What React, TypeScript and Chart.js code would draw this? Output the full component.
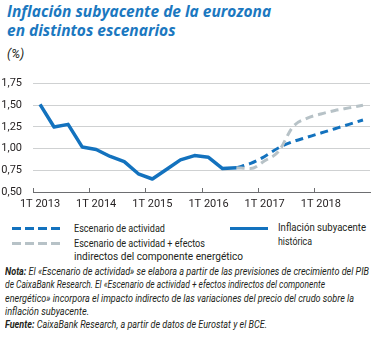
import React, { useEffect, useLayoutEffect, useRef } from "react";
import { Chart, registerables } from "chart.js";

Chart.register(...registerables);

const categories = [
  "1T 2013", "2T 2013", "3T 2013", "4T 2013",
  "1T 2014", "2T 2014", "3T 2014", "4T 2014",
  "1T 2015", "2T 2015", "3T 2015", "4T 2015",
  "1T 2016", "2T 2016", "3T 2016", "4T 2016",
  "1T 2017", "2T 2017", "3T 2017", "4T 2017",
  "1T 2018", "2T 2018", "3T 2018", "4T 2018",
];

const historic = [
  1.51, 1.25, 1.28, 1.02, 0.99, 0.91, 0.85, 0.71, 0.65, 0.76, 0.87, 0.92, 0.9, 0.77, 0.78,
  null, null, null, null, null, null, null, null, null,
];

const activityScenario = [
  null, null, null, null, null, null, null, null, null, null, null, null, null, null,
  0.78, 0.83, 0.91, 1.01, 1.08, 1.13, 1.18, 1.23, 1.28, 1.33,
];

const energyScenario = [
  null, null, null, null, null, null, null, null, null, null, null, null, null, null,
  0.78, 0.77, 0.86, 0.97, 1.25, 1.35, 1.4, 1.44, 1.47, 1.5,
];

const yMin = 0.5;
const yMax = 1.75;
const yStep = 0.25;

const BLUE = "#1372be";
const GREY = "#b7c2c7";
const TITLE_BLUE = "#1b78c0";
const TEXT = "#231f20";
const FONT = "'Roboto', sans-serif";

const yearTicks = {
  id: "yearTicks",
  afterDatasetsDraw(chart: any) {
    const x = chart.scales.x;
    const { ctx, chartArea } = chart;
    const half = (x.getPixelForValue(1) - x.getPixelForValue(0)) / 2;
    ctx.save();
    ctx.strokeStyle = "#6d6e71";
    ctx.lineWidth = 1;
    categories.forEach((c, i) => {
      if (c.startsWith("1T")) {
        const px = Math.round(x.getPixelForValue(i) - half) + 0.5;
        ctx.beginPath();
        ctx.moveTo(px, chartArea.bottom);
        ctx.lineTo(px, chartArea.bottom - 4);
        ctx.stroke();
      }
    });
    ctx.restore();
  },
};

function FitLine({ width, children }: { width: number; children: React.ReactNode }) {
  const ref = useRef<HTMLSpanElement | null>(null);
  useLayoutEffect(() => {
    const el = ref.current;
    if (!el) return;
    el.style.transform = "none";
    const w = el.getBoundingClientRect().width;
    if (w > 0) el.style.transform = `scaleX(${width / w})`;
  }, [width]);
  return (
    <span
      ref={ref}
      style={{ display: "inline-block", whiteSpace: "nowrap", transformOrigin: "0 0" }}
    >
      {children}
    </span>
  );
}

function LegendDash({ color }: { color: string }) {
  return (
    <div
      style={{
        width: 48,
        height: 3,
        background: `repeating-linear-gradient(90deg, ${color} 0 9px, transparent 9px 13px)`,
      }}
    />
  );
}

export default function App() {
  const canvasRef = useRef<HTMLCanvasElement | null>(null);

  useEffect(() => {
    if (!canvasRef.current) return;
    const chart = new Chart(canvasRef.current, {
      type: "line",
      data: {
        labels: categories,
        datasets: [
          {
            label: "Escenario de actividad + efectos indirectos del componente energético",
            data: energyScenario,
            borderColor: GREY,
            borderWidth: 3,
            borderDash: [8, 5],
            pointRadius: 0,
            cubicInterpolationMode: "monotone",
            fill: false,
          },
          {
            label: "Escenario de actividad",
            data: activityScenario,
            borderColor: BLUE,
            borderWidth: 3,
            borderDash: [8, 5],
            pointRadius: 0,
            cubicInterpolationMode: "monotone",
            fill: false,
          },
          {
            label: "Inflación subyacente histórica",
            data: historic,
            borderColor: BLUE,
            borderWidth: 3.5,
            pointRadius: 0,
            tension: 0,
            fill: false,
            borderJoinStyle: "round",
          },
        ],
      },
      options: {
        animation: false,
        responsive: false,
        devicePixelRatio: 1,
        layout: { padding: { left: 0, right: 3, top: 12, bottom: 0 } },
        plugins: { legend: { display: false }, tooltip: { enabled: false } },
        scales: {
          x: {
            type: "category",
            offset: true,
            grid: { display: false, drawTicks: false },
            border: { display: true, color: "#6d6e71", width: 1 },
            ticks: {
              autoSkip: false,
              maxRotation: 0,
              padding: 6,
              color: TEXT,
              font: { family: FONT, size: 11 },
              callback: (_v: any, i: number) => (categories[i].startsWith("1T") ? categories[i] : ""),
            },
            afterFit: (s: any) => {
              s.height = 24;
            },
          },
          y: {
            min: yMin,
            max: yMax,
            border: { display: false },
            grid: {
              drawTicks: false,
              color: (ctx: any) => (ctx.tick && ctx.tick.value === yMin ? "rgba(0,0,0,0)" : "#cfd1d2"),
              lineWidth: 1,
            },
            ticks: {
              stepSize: yStep,
              padding: 11,
              color: TEXT,
              font: { family: FONT, size: 11 },
              callback: (v: any) => Number(v).toFixed(2).replace(".", ","),
            },
            afterFit: (s: any) => {
              s.width = 33;
            },
          },
        },
      },
      plugins: [yearTicks],
    });
    return () => chart.destroy();
  }, []);

  const legendText: React.CSSProperties = {
    position: "absolute",
    fontFamily: FONT,
    fontSize: 11,
    lineHeight: "13px",
    color: TEXT,
    whiteSpace: "nowrap",
  };

  const noteLine: React.CSSProperties = {
    whiteSpace: "nowrap",
    height: 13.3,
    lineHeight: "13.3px",
  };

  return (
    <div
      style={{
        position: "absolute",
        left: 0,
        top: 0,
        width: 373,
        height: 338,
        background: "#fff",
        overflow: "hidden",
        fontFamily: FONT,
        color: TEXT,
      }}
    >
      <div
        style={{
          position: "absolute",
          left: 7,
          top: 2,
          fontFamily: "'Open Sans', sans-serif",
          fontWeight: 700,
          fontStyle: "italic",
          fontSize: 15.5,
          lineHeight: "19px",
          color: TITLE_BLUE,
          whiteSpace: "nowrap",
        }}
      >
        <div>Inflación subyacente de la eurozona</div>
        <div>en distintos escenarios</div>
      </div>
      <div
        style={{
          position: "absolute",
          left: 7,
          top: 46,
          fontStyle: "italic",
          fontSize: 12.5,
          lineHeight: "15px",
        }}
      >
        (%)
      </div>
      <canvas
        ref={canvasRef}
        width={373}
        height={150}
        style={{ position: "absolute", left: 0, top: 66, width: 373, height: 150 }}
      />
      <div style={{ position: "absolute", left: 12, top: 227 }}>
        <LegendDash color={BLUE} />
      </div>
      <div style={{ ...legendText, left: 74, top: 222 }}>
        <FitLine width={91}>Escenario de actividad</FitLine>
      </div>
      <div style={{ position: "absolute", left: 12, top: 242 }}>
        <LegendDash color={GREY} />
      </div>
      <div style={{ ...legendText, left: 74, top: 237 }}>
        <div style={{ height: 13 }}>
          <FitLine width={131}>Escenario de actividad + efectos</FitLine>
        </div>
        <div style={{ height: 13 }}>
          <FitLine width={169}>indirectos del componente energético</FitLine>
        </div>
      </div>
      <div style={{ position: "absolute", left: 230, top: 227, width: 38, height: 3, background: BLUE }} />
      <div style={{ ...legendText, left: 278, top: 221 }}>
        <div style={{ height: 14 }}>
          <FitLine width={88}>Inflación subyacente</FitLine>
        </div>
        <div style={{ height: 14 }}>
          <FitLine width={34}>histórica</FitLine>
        </div>
      </div>
      <div
        style={{
          position: "absolute",
          left: 5,
          top: 265,
          fontStyle: "italic",
          fontSize: 11,
          color: TEXT,
        }}
      >
        <div style={noteLine}>
          <FitLine width={364}>
            <b>Nota:</b> El «Escenario de actividad» se elabora a partir de las previsiones de crecimiento del PIB
          </FitLine>
        </div>
        <div style={noteLine}>
          <FitLine width={320}>
            de CaixaBank Research. El «Escenario de actividad + efectos indirectos del componente
          </FitLine>
        </div>
        <div style={noteLine}>
          <FitLine width={349}>
            energético» incorpora el impacto indirecto de las variaciones del precio del crudo sobre la
          </FitLine>
        </div>
        <div style={noteLine}>
          <FitLine width={84}>inflación subyacente.</FitLine>
        </div>
        <div style={noteLine}>
          <FitLine width={262}>
            <b>Fuente:</b> CaixaBank Research, a partir de datos de Eurostat y el BCE.
          </FitLine>
        </div>
      </div>
    </div>
  );
}
